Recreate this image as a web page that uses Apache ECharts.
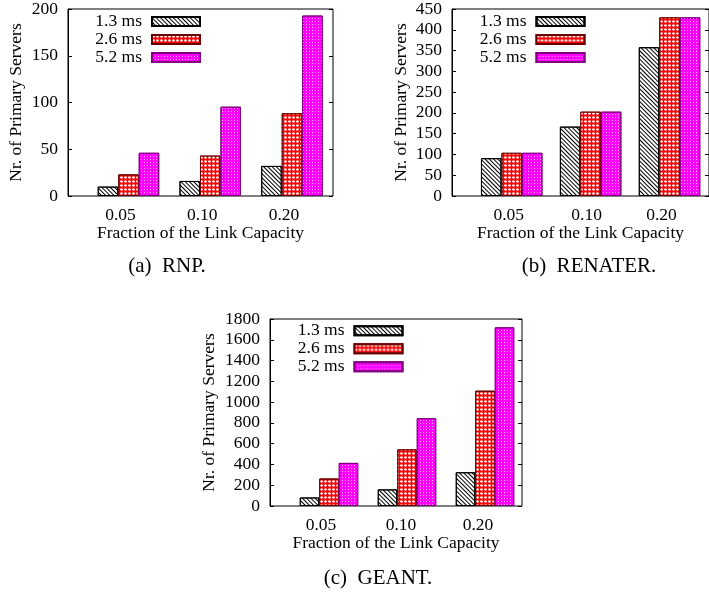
<!DOCTYPE html>
<html>
<head>
<meta charset="utf-8">
<script src="https://cdn.jsdelivr.net/npm/echarts@6/dist/echarts.min.js"></script>
<style>
html,body{margin:0;padding:0;background:#fff;}
#chart{width:709px;height:593px;}
</style>
</head>
<body>
<div id="chart"></div>
<script>
// ---------------- data ----------------
const categories = ['0.05', '0.10', '0.20'];
const seriesNames = ['1.3 ms', '2.6 ms', '5.2 ms'];

const rnp_13 = [10, 16, 32];
const rnp_26 = [23, 43, 88];
const rnp_52 = [46, 95, 192];

const renater_13 = [91, 167, 358];
const renater_26 = [104, 203, 430];
const renater_52 = [104, 203, 430];

const geant_13 = [82, 160, 325];
const geant_26 = [265, 545, 1110];
const geant_52 = [415, 845, 1720];

const rnpYMax = 200, rnpYStep = 50;
const renaterYMax = 450, renaterYStep = 50;
const geantYMax = 1800, geantYStep = 200;

const xTitle = 'Fraction of the Link Capacity';
const yTitle = 'Nr. of Primary Servers';
const captions = ['(a)  RNP.', '(b)  RENATER.', '(c)  GEANT.'];

// ---------------- layout / style ----------------
const FONT = '"Liberation Serif", "Times New Roman", serif';
const FS = 17.5;

const panels = [
  { series: [rnp_13, rnp_26, rnp_52], max: rnpYMax, step: rnpYStep,
    frame: { left: 68, top: 8, width: 265, height: 188 },
    bars: { left: 87.6, width: 245.25 }, barWidth: 20.5,
    labelShift: [8, 8, 8], yNameGap: 43,
    legend: { right: 709 - 201, top: 12.5 },
    caption: { x: 167, y: 266 } },
  { series: [renater_13, renater_26, renater_52], max: renaterYMax, step: renaterYStep,
    frame: { left: 452, top: 9, width: 265, height: 187 },
    bars: { left: 472.25, width: 244.5 }, barWidth: 20.5,
    labelShift: [3, 4, 8], yNameGap: 42,
    legend: { right: 709 - 585.5, top: 12.5 },
    caption: { x: 589, y: 266 } },
  { series: [geant_13, geant_26, geant_52], max: geantYMax, step: geantYStep,
    frame: { left: 270, top: 319, width: 252, height: 187 },
    bars: { left: 290, width: 234 }, barWidth: 19.5,
    labelShift: [8, 6, 7], yNameGap: 52,
    legend: { right: 709 - 403.5, top: 321.8 },
    caption: { x: 378, y: 578 } }
];

const barStyles = [
  { color: '#ffffff', borderColor: '#000000', borderWidth: 1,
    decal: { symbol: 'rect', symbolSize: 1, color: '#000000',
             dashArrayX: [1, 0], dashArrayY: [1, 1.9], rotation: Math.PI / 4 } },
  { color: '#ff0000', borderColor: '#6a0000', borderWidth: 1,
    decal: { symbol: 'circle', symbolSize: 0.85, color: '#ffffff',
             dashArrayX: [3, 1], dashArrayY: [3, 1] } },
  { color: '#ff00ff', borderColor: '#800080', borderWidth: 1,
    decal: { symbol: 'rect', symbolSize: 1, color: 'rgba(255,255,255,0.7)',
             dashArrayX: [1, 2], dashArrayY: [1, 2] } }
];

const grid = [], xAxis = [], yAxis = [], series = [], legend = [], graphic = [];
const N = panels.length;

panels.forEach((p, k) => {
  // frame grid
  grid[k] = Object.assign({ show: true, borderColor: '#000', borderWidth: 1,
    backgroundColor: 'transparent', containLabel: false }, p.frame);
  // bars grid
  grid[N + k] = { left: p.bars.left, width: p.bars.width, top: p.frame.top,
    height: p.frame.height, containLabel: false };

  xAxis[k] = { gridIndex: k, type: 'value', min: 0, max: 1,
    axisLine: { show: false }, axisTick: { show: false },
    axisLabel: { show: false }, splitLine: { show: false },
    name: xTitle, nameLocation: 'middle', nameGap: 28,
    nameTextStyle: { fontFamily: FONT, fontSize: FS, color: '#000' } };
  xAxis[N + k] = { gridIndex: N + k, type: 'category',
    data: categories.map((c, i) => ({ value: c,
      textStyle: { padding: [0, 2 * p.labelShift[i], 0, 0] } })),
    axisLine: { show: false }, axisTick: { show: false },
    splitLine: { show: false },
    axisLabel: { fontFamily: FONT, fontSize: FS, color: '#000', margin: 10 } };

  const common = { type: 'value', min: 0, max: p.max, interval: p.step,
    splitLine: { show: false } };
  yAxis[k] = Object.assign({}, common, { gridIndex: k, position: 'left',
    axisLine: { show: true, lineStyle: { color: '#000', width: 1 } },
    axisTick: { show: true, inside: true, length: 4, lineStyle: { color: '#000' } },
    axisLabel: { fontFamily: FONT, fontSize: FS, color: '#000', margin: 10,
      formatter: v => String(v) },
    name: yTitle, nameLocation: 'middle', nameGap: p.yNameGap,
    nameTextStyle: { fontFamily: FONT, fontSize: FS, color: '#000' } });
  yAxis[N + k] = Object.assign({}, common, { gridIndex: k, position: 'right',
    axisLine: { show: false },
    axisTick: { show: true, inside: true, length: 4, lineStyle: { color: '#000' } },
    axisLabel: { show: false } });
  yAxis[2 * N + k] = Object.assign({}, common, { gridIndex: N + k, show: false });

  p.series.forEach((vals, j) => {
    series.push({ type: 'bar', name: seriesNames[j], data: vals,
      xAxisIndex: N + k, yAxisIndex: 2 * N + k,
      barWidth: p.barWidth, barGap: '0%',
      itemStyle: barStyles[j], emphasis: { disabled: true } });
  });

  legend.push({ orient: 'vertical', align: 'right', right: p.legend.right,
    top: p.legend.top, padding: 0, itemGap: 0, itemWidth: 48, itemHeight: 9,
    icon: 'rect', selectedMode: false, data: seriesNames,
    textStyle: { fontFamily: FONT, fontSize: FS, color: '#000', lineHeight: 18,
      padding: [0, 5, 0, 0] } });

  graphic.push({ type: 'text', x: p.caption.x, y: p.caption.y, silent: true,
    style: { text: captions[k], fill: '#000', font: '21px ' + FONT,
      textAlign: 'center', textVerticalAlign: 'middle' } });
});

const chart = echarts.init(document.getElementById('chart'));
chart.setOption({
  animation: false,
  backgroundColor: '#ffffff',
  grid, xAxis, yAxis, series, legend, graphic
});
</script>
</body>
</html>
